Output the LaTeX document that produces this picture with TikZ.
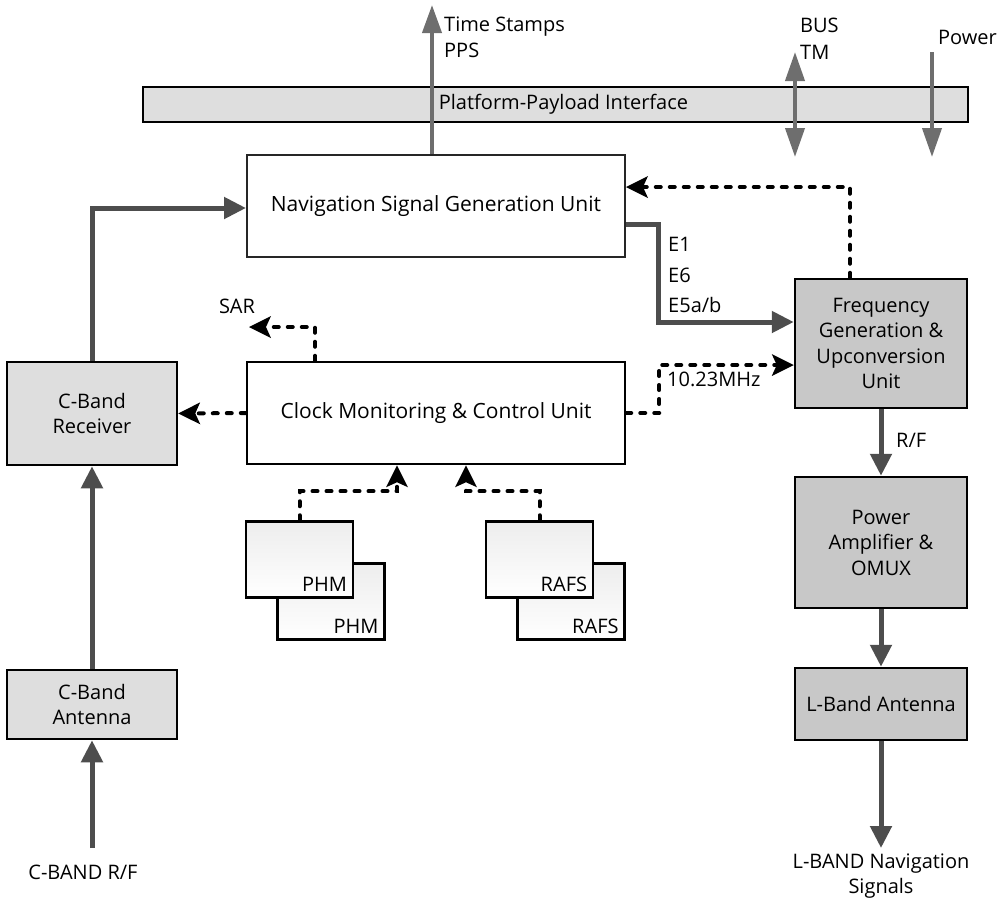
\documentclass[tikz,border=0pt]{standalone}
\usepackage{fontspec}
\setmainfont{Open Sans}
\usepackage{tikz}
\usetikzlibrary{arrows.meta}
\definecolor{signal}{HTML}{4D4D4D}
\definecolor{iface}{HTML}{6E6E6E}
\definecolor{paleblock}{HTML}{DEDEDE}
\definecolor{darkblock}{HTML}{C8C8C8}
\newcommand{\LabelFont}{\fontsize{20}{25.5}\selectfont}
\newcommand{\WideFont}{\fontsize{21}{25.5}\selectfont}

\begin{document}
\begin{tikzpicture}[x=1pt,y=-1pt,
    block/.style={draw=black,line width=2.5pt,inner sep=0pt,align=center,font=\LabelFont},
    modbox/.style={block,top color=gray!14,bottom color=white,minimum width=107pt,minimum height=76pt},
    modtag/.style={font=\LabelFont,anchor=south east,inner sep=7pt},
    txt/.style={font=\LabelFont,inner sep=0pt,align=left},
    sig/.style={draw=signal,line width=5pt,-{Triangle[length=22pt,width=21pt]}},
    up/.style={draw=iface,line width=4pt},
    ctrl/.style={draw=black,line width=4pt,line cap=round,dash pattern=on 5pt off 9pt,
      -{Stealth[length=22pt,width=22pt,inset=5pt,line width=0pt]}}]
  \useasboundingbox (0,0) rectangle (1005,903);

  % blocks
  \node[block,fill=paleblock,line width=2pt,minimum width=825pt,minimum height=35pt,
    label={[txt,anchor=center,xshift=8pt]center:Platform-Payload Interface}] (ppi) at (555.5,104.5) {};
  \node[block,font=\WideFont,fill=white,draw=black!85,line width=2pt,minimum width=378pt,minimum height=102pt] (nsgu) at (436,206) {Navigation Signal Generation Unit};
  \node[block,font=\WideFont,fill=white,minimum width=378pt,minimum height=102pt] (clk) at (436,413) {Clock Monitoring \& Control Unit};
  \node[block,fill=paleblock,minimum width=170pt,minimum height=103pt] (rx) at (92,413.5) {C-Band\\Receiver};
  \node[block,fill=paleblock,minimum width=170pt,minimum height=69pt] (cant) at (92,704.5) {C-Band\\Antenna};
  \node[block,fill=darkblock,minimum width=172pt,minimum height=129pt] (fgu) at (881,343.5) {Frequency\\Generation \&\\Upconversion\\Unit};
  \node[block,fill=darkblock,minimum width=172pt,minimum height=131pt] (pa) at (881,542.5) {Power\\Amplifier \&\\OMUX};
  \node[block,fill=darkblock,minimum width=172pt,minimum height=72pt] (lant) at (881,704) {L-Band Antenna};
  \foreach \n/\x/\y/\t in {phm2/331/601.5/PHM,phm1/299.5/559.5/PHM,rafs2/571/601.5/RAFS,rafs1/539.5/559.5/RAFS}
    \node[modbox,label={[modtag]south east:\t}] (\n) at (\x,\y) {};

  % free ends
  \coordinate (ts) at (432,5);
  \coordinate (bustop) at (795,52);
  \coordinate (busbot) at (795,157);
  \coordinate (pwtop) at (932,52);
  \coordinate (pwbot) at (932,157);
  \coordinate (sar) at (249,327);
  \coordinate (lsig) at (881,848);
  \coordinate (csig) at (92,848);

  % interface arrows
  \draw[up,-{Triangle[length=28pt,width=19pt]}] ([xshift=-4pt]nsgu.north) -- (ts);
  \draw[up,{Triangle[length=29pt,width=19pt]}-{Triangle[length=29pt,width=19pt]}] (bustop) -- (busbot);
  \draw[up,-{Triangle[length=29pt,width=19pt]}] (pwtop) -- (pwbot);

  % signal path
  \draw[sig] (rx.north) |- ([yshift=-2pt]nsgu.west);
  \draw[sig] ([yshift=-18pt]nsgu.east) -- ++(32,0) |- ([yshift=21.5pt]fgu.west);
  \draw[sig] (fgu.south) -- (pa.north);
  \draw[sig] (pa.south) -- (lant.north);
  \draw[sig] (lant.south) -- (lsig);
  \draw[sig] (cant.north) -- (rx.south);
  \draw[sig] (csig) -- (cant.south);

  % clock and control
  \draw[ctrl] ([xshift=-121pt]clk.north) |- (sar);
  \draw[ctrl] (clk.west) -- (rx.east);
  \draw[ctrl] (clk.east) -- ++(33,0) |- ([yshift=-21.5pt]fgu.west);
  \draw[ctrl] ([xshift=-31pt]fgu.north) |- ([yshift=19pt]nsgu.east);
  \draw[ctrl] (phm1.north) -- ++(0,-29) -| ([xshift=-39pt]clk.south);
  \draw[ctrl] (rafs1.north) -- ++(0,-29) -| ([xshift=30pt]clk.south);

  % labels
  \node[txt,anchor=west] (tslbl) at (444,37.5) {Time Stamps\\PPS};
  \node[txt,anchor=west,font=\fontsize{20}{27}\selectfont] (buslbl) at (800,38.5) {BUS\\TM};
  \node[txt,anchor=west] (pwlbl) at (938,37) {Power};
  \node[txt,anchor=west] (elbl) at (668,275) {E1\\[5pt]E6\\[5pt]E5a/b};
  \node[txt,anchor=west] (mhzlbl) at (667,379) {10.23MHz};
  \node[txt] (sarlbl) at (237,306) {SAR};
  \node[txt,anchor=west] (rflbl) at (896,440) {R/F};
  \node[txt,align=center] (lsiglbl) at (881,876) {L-BAND Navigation\\Signals};
  \node[txt] (csiglbl) at (83,872) {C-BAND R/F};
\end{tikzpicture}
\end{document}
